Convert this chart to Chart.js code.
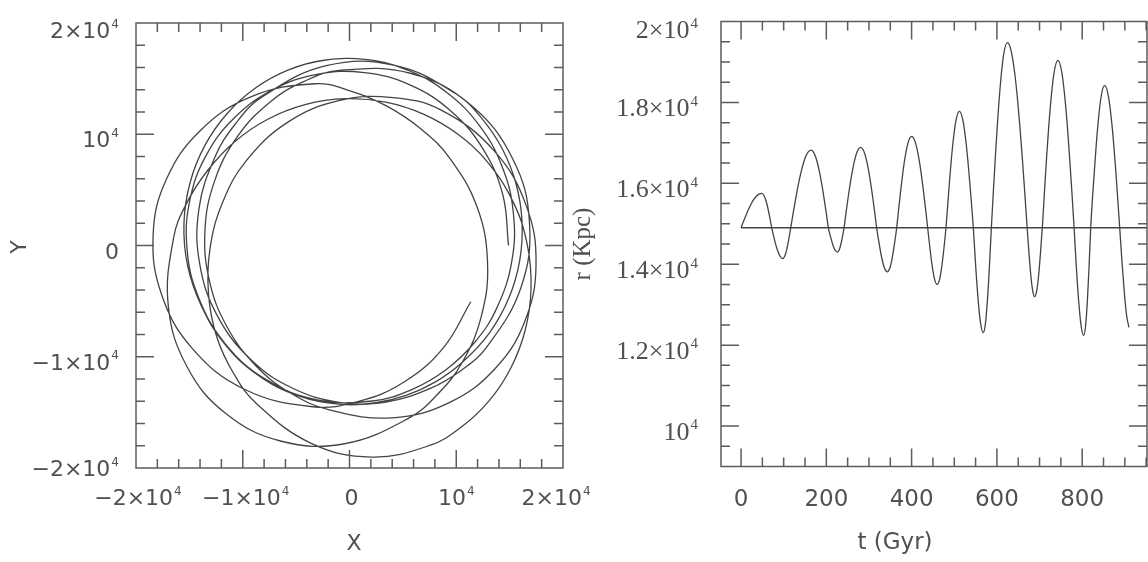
<!DOCTYPE html>
<html>
<head>
<meta charset="utf-8">
<title>Orbit and radius evolution</title>
<script src="https://cdn.jsdelivr.net/npm/chart.js@4.4.1/dist/chart.umd.min.js"></script>
<style>
  html, body { margin: 0; padding: 0; background: #ffffff; }
  #figure { position: relative; width: 1148px; height: 562px; overflow: hidden; background: #ffffff; }
  #figure canvas { position: absolute; top: 0; }
  #orbitPanel { left: 0; }
  #radiusPanel { left: 560px; }
</style>
</head>
<body>
<div id="figure">
  <canvas id="orbitPanel" width="600" height="562"></canvas>
  <canvas id="radiusPanel" width="588" height="562"></canvas>
</div>
<script>
// Orbit samples: time, galactocentric radius and azimuth (degrees, unwrapped).
const timeGyr = [
  0, 6.1, 12.1, 18.2, 24.3, 30.3, 36.4, 42.4, 48.5,
  54.4, 60.3, 66.1, 72,
  78.4, 84.9, 91.3, 97.7,
  102.4, 107.1, 111.8, 116.5,
  122.4, 128.4, 134.3, 140.3, 146.2, 152.1, 158.1, 164,
  169.1, 174.2, 179.3, 184.4, 189.5, 194.6, 199.7, 204.8,
  210.1, 215.4, 220.6, 225.9,
  229.8, 233.7, 237.6, 241.5,
  246.4, 251.3, 256.2, 261.1, 266, 270.8, 275.7, 280.6,
  290, 299.3, 308.7, 313.4, 318,
  324.3, 330.5, 336.8, 343,
  348.5, 354, 359.5, 365,
  369.4, 373.8, 382.5, 391.3, 400,
  409.4, 418.9, 428.3, 433, 437.7,
  443.3, 448.9, 454.4, 460,
  465.2, 470.3, 475.5, 480.6,
  488.5, 496.3, 504.2, 512,
  520.2, 528.4, 536.5, 544.7,
  550.5, 556.4, 562.2, 568,
  572.8, 577.5, 582.3, 587,
  591.7, 596.4, 605.8, 615.1, 624.5,
  630.3, 636.1, 642, 647.8, 653.6, 659.4, 665.2, 671,
  675.4, 679.8, 684.2, 688.6,
  693.1, 697.6, 702, 706.5,
  711.1, 715.6, 724.8, 733.9, 743,
  752.5, 762, 771.5, 776.3, 781,
  786.6, 792.3, 797.9, 803.5,
  807.6, 811.8, 815.9, 820,
  828.2, 836.4, 844.5, 852.7,
  861.5, 870.4, 879.2, 888,
  893.4, 898.9, 904.3, 909.7
];

const radiusKpc = [
  14900, 15066, 15225, 15372, 15501, 15607, 15685, 15734, 15750,
  15685, 15501, 15225, 14900,
  14609, 14363, 14198, 14140,
  14198, 14363, 14609, 14900,
  15275, 15635, 15967, 16258, 16496, 16674, 16783, 16820,
  16783, 16674, 16496, 16258, 15967, 15635, 15275, 14900,
  14670, 14476, 14346, 14300,
  14346, 14476, 14670, 14900,
  15288, 15662, 16006, 16307, 16555, 16739, 16852, 16890,
  16739, 16307, 15662, 15288, 14900,
  14483, 14129, 13893, 13810,
  13893, 14129, 14483, 14900,
  15341, 15765, 16498, 16988, 17160,
  16988, 16498, 15765, 15341, 14900,
  14364, 13910, 13607, 13500,
  13607, 13910, 14364, 14900,
  16002, 16936, 17561, 17780,
  17561, 16936, 16002, 14900,
  13909, 13069, 12507, 12310,
  12507, 13069, 13909, 14900,
  15794, 16653, 18139, 19131, 19480,
  19392, 19131, 18708, 18139, 17445, 16653, 15794, 14900,
  14249, 13698, 13329, 13200,
  13329, 13698, 14249, 14900,
  15708, 16484, 17827, 18725, 19040,
  18725, 17827, 16484, 15708, 14900,
  13882, 13019, 12442, 12240,
  12442, 13019, 13882, 14900,
  16247, 17389, 18152, 18420,
  18152, 17389, 16247, 14900,
  14048, 13289, 12722, 12440
];

const azimuthDeg = [
  0, 17.7, 35.0, 51.9, 68.6, 84.9, 101.2, 117.2, 133.3,
  148.8, 164.6, 180.9, 197.8,
  217.1, 237.1, 257.7, 278.7,
  294.0, 309.0, 323.7, 337.8,
  354.9, 371.2, 386.7, 401.7, 416.2, 430.4, 444.3, 458.1,
  469.9, 481.9, 494.0, 506.5, 519.3, 532.7, 546.7, 561.4,
  577.2, 593.4, 610.0, 626.8,
  639.3, 651.5, 663.5, 675.2,
  689.2, 702.6, 715.4, 727.7, 739.5, 751.1, 762.4, 773.7,
  795.3, 817.7, 841.7, 854.4, 867.9,
  886.8, 906.8, 927.6, 948.9,
  967.7, 986.0, 1003.6, 1020.3,
  1032.8, 1044.6, 1066.7, 1087.1, 1106.7,
  1127.9, 1149.8, 1173.6, 1186.3, 1199.8,
  1216.9, 1235.1, 1254.4, 1274.2,
  1292.6, 1310.4, 1327.2, 1343.0,
  1364.5, 1383.5, 1400.8, 1417.2,
  1434.3, 1452.3, 1472.1, 1494.6,
  1513.0, 1534.0, 1557.3, 1582.0,
  1602.2, 1621.2, 1638.3, 1653.4,
  1666.4, 1678.2, 1698.6, 1716.3, 1732.7,
  1742.8, 1753.1, 1763.7, 1775.1, 1787.1, 1800.3, 1814.8, 1831.1,
  1844.7, 1859.4, 1875.2, 1891.6,
  1908.2, 1924.2, 1939.2, 1953.0,
  1965.8, 1977.4, 1997.8, 2015.7, 2032.4,
  2049.8, 2068.5, 2089.7, 2101.7, 2115.1,
  2132.9, 2153.3, 2176.0, 2200.2,
  2217.9, 2234.6, 2249.5, 2262.6,
  2284.7, 2303.7, 2320.7, 2336.7,
  2353.9, 2372.2, 2392.7, 2416.6,
  2433.5, 2452.8, 2473.7, 2496.0
];

// Starting radius, shown as a horizontal reference line.
const startRadius = 14900;

// Axis ticks and labels ("^" introduces the exponent).
const orbitTickValues = [-20000, -10000, 0, 10000, 20000];
const orbitTickLabels = ['\u22122\u00d710^4', '\u22121\u00d710^4', '0', '10^4', '2\u00d710^4'];
const timeTickValues = [0, 200, 400, 600, 800];
const timeTickLabels = ['0', '200', '400', '600', '800'];
const radiusTickValues = [10000, 12000, 14000, 16000, 18000, 20000];
const radiusTickLabels = ['10^4', '1.2\u00d710^4', '1.4\u00d710^4', '1.6\u00d710^4', '1.8\u00d710^4', '2\u00d710^4'];

const INK = '#444444';
const FRAME = '#5c5c5c';
const TEXT = '#505050';
const SANS = '"DejaVu Sans", sans-serif';
const SERIF = '"Liberation Serif", "DejaVu Serif", serif';

// Digit height as a fraction of font size, per family.
function digitHeight(family) { return family === SERIF ? 0.66 : 0.73; }

// Draw a label such as "1.6×10^4" with a raised exponent, vertically centred on cy.
function drawPowerLabel(ctx, text, x, cy, align, size, family) {
  const parts = text.split('^');
  const base = parts[0];
  const exp = parts[1];
  const expSize = Math.round(size * 0.56);
  const dh = digitHeight(family);
  ctx.font = size + 'px ' + family;
  const wb = ctx.measureText(base).width;
  let we = 0;
  if (exp) {
    ctx.font = expSize + 'px ' + family;
    we = ctx.measureText(exp).width + 1;
  }
  const total = wb + we;
  const left = align === 'right' ? x - total : x - total / 2;
  const baseLine = cy + size * dh / 2;
  ctx.textAlign = 'left';
  ctx.textBaseline = 'alphabetic';
  ctx.font = size + 'px ' + family;
  ctx.fillText(base, left, baseLine);
  if (exp) {
    const top = cy - size * dh / 2 - 3;
    ctx.font = expSize + 'px ' + family;
    ctx.fillText(exp, left + wb + 1, top + expSize * dh);
  }
}

function drawRotated(ctx, text, x, y, size, family) {
  ctx.save();
  ctx.translate(x, y);
  ctx.rotate(-Math.PI / 2);
  ctx.font = size + 'px ' + family;
  ctx.textAlign = 'center';
  ctx.textBaseline = 'middle';
  ctx.fillText(text, 0, 0);
  ctx.restore();
}

// Boxed axes: frame, inward ticks on all four sides, tick labels and titles.
const boxedAxes = {
  id: 'boxedAxes',
  afterDatasetsDraw(chart, args, o) {
    const ctx = chart.ctx;
    const a = chart.chartArea;
    const xs = chart.scales.x;
    const ys = chart.scales.y;
    ctx.save();
    ctx.strokeStyle = FRAME;
    ctx.lineWidth = 1.5;
    ctx.beginPath();
    const eps = 1e-6;
    for (let i = Math.ceil(xs.min / o.xMinor); i * o.xMinor <= xs.max + eps; i++) {
      const v = i * o.xMinor;
      if (Math.abs(v - xs.min) < eps || Math.abs(v - xs.max) < eps) continue;
      const len = Math.abs(v % o.xMajor) < eps ? o.majorLen : o.minorLen;
      const px = xs.getPixelForValue(v);
      ctx.moveTo(px, a.bottom); ctx.lineTo(px, a.bottom - len);
      ctx.moveTo(px, a.top); ctx.lineTo(px, a.top + len);
    }
    for (let i = Math.ceil(ys.min / o.yMinor); i * o.yMinor <= ys.max + eps; i++) {
      const v = i * o.yMinor;
      if (Math.abs(v - ys.min) < eps || Math.abs(v - ys.max) < eps) continue;
      const len = Math.abs(v % o.yMajor) < eps ? o.majorLen : o.minorLen;
      const py = ys.getPixelForValue(v);
      ctx.moveTo(a.left, py); ctx.lineTo(a.left + len, py);
      ctx.moveTo(a.right, py); ctx.lineTo(a.right - len, py);
    }
    ctx.stroke();
    ctx.strokeRect(a.left, a.top, a.right - a.left, a.bottom - a.top);

    ctx.fillStyle = TEXT;
    o.xTicks.forEach((v, i) => {
      const shift = (o.xLabelShift && o.xLabelShift[i]) || 0;
      drawPowerLabel(ctx, o.xLabels[i], xs.getPixelForValue(v) + shift, o.xLabelY,
        'center', o.xFont.size, o.xFont.family);
    });
    o.yTicks.forEach((v, i) => {
      const dy = (o.yLabelShift && o.yLabelShift[i] !== undefined) ? o.yLabelShift[i] : 5;
      drawPowerLabel(ctx, o.yLabels[i], o.yLabelRight, ys.getPixelForValue(v) + dy,
        'right', o.yFont.size, o.yFont.family);
    });
    ctx.font = o.xTitleFont.size + 'px ' + o.xTitleFont.family;
    ctx.textAlign = 'center';
    ctx.textBaseline = 'middle';
    ctx.fillText(o.xTitle, o.xTitlePos[0], o.xTitlePos[1]);
    drawRotated(ctx, o.yTitle, o.yTitlePos[0], o.yTitlePos[1], o.yTitleFont.size, o.yTitleFont.family);
    ctx.restore();
  }
};

const orbitPoints = timeGyr.map((t, i) => {
  const phi = azimuthDeg[i] * Math.PI / 180;
  return { x: radiusKpc[i] * Math.cos(phi), y: radiusKpc[i] * Math.sin(phi) };
});
const radiusPoints = timeGyr.map((t, i) => ({ x: t, y: radiusKpc[i] }));

const common = {
  responsive: false,
  animation: false,
  devicePixelRatio: 1,
  events: []
};

// Left panel: path of the orbit in the X-Y plane.
new Chart(document.getElementById('orbitPanel'), {
  type: 'scatter',
  data: {
    datasets: [{
      data: orbitPoints,
      showLine: true,
      borderColor: INK,
      borderWidth: 1.3,
      pointRadius: 0,
      tension: 0.4,
      fill: false
    }]
  },
  options: Object.assign({}, common, {
    layout: { padding: { left: 136, top: 23, right: 37, bottom: 94 } },
    scales: {
      x: { type: 'linear', min: -20000, max: 20000, display: false },
      y: { type: 'linear', min: -20000, max: 20000, display: false }
    },
    plugins: {
      legend: { display: false },
      tooltip: { enabled: false },
      boxedAxes: {
        xMinor: 2000, xMajor: 10000, yMinor: 2000, yMajor: 10000,
        majorLen: 18, minorLen: 9,
        xTicks: orbitTickValues, xLabels: orbitTickLabels,
        yTicks: orbitTickValues, yLabels: orbitTickLabels,
        xLabelY: 497, xLabelShift: [2, 3, 2, 0, -7],
        yLabelRight: 119, yLabelShift: [0, 5, 5, 5, 7],
        xFont: { size: 22, family: SANS }, yFont: { size: 22, family: SANS },
        xTitle: 'X', xTitlePos: [354, 544], xTitleFont: { size: 22, family: SANS },
        yTitle: 'Y', yTitlePos: [20, 247], yTitleFont: { size: 22, family: SANS }
      }
    }
  }),
  plugins: [boxedAxes]
});

// Right panel: radius against time, with the starting radius for reference.
new Chart(document.getElementById('radiusPanel'), {
  type: 'scatter',
  data: {
    datasets: [{
      data: radiusPoints,
      showLine: true,
      borderColor: INK,
      borderWidth: 1.3,
      pointRadius: 0,
      cubicInterpolationMode: 'monotone',
      fill: false
    }, {
      data: [{ x: timeGyr[0], y: startRadius }, { x: 960, y: startRadius }],
      showLine: true,
      borderColor: INK,
      borderWidth: 1.4,
      pointRadius: 0,
      fill: false
    }]
  },
  options: Object.assign({}, common, {
    layout: { padding: { left: 161, top: 21.5, right: 1, bottom: 95.5 } },
    scales: {
      x: { type: 'linear', min: -47, max: 952, display: false },
      y: { type: 'linear', min: 9000, max: 20000, display: false }
    },
    plugins: {
      legend: { display: false },
      tooltip: { enabled: false },
      boxedAxes: {
        xMinor: 50, xMajor: 200, yMinor: 500, yMajor: 2000,
        majorLen: 18, minorLen: 9,
        xTicks: timeTickValues, xLabels: timeTickLabels,
        yTicks: radiusTickValues, yLabels: radiusTickLabels,
        xLabelY: 498,
        yLabelRight: 138, yLabelShift: [5, 5, 5, 5, 5, 8],
        xFont: { size: 23, family: SANS }, yFont: { size: 26, family: SERIF },
        xTitle: 't (Gyr)', xTitlePos: [335, 543], xTitleFont: { size: 23, family: SANS },
        yTitle: 'r (Kpc)', yTitlePos: [23, 244], yTitleFont: { size: 25, family: SERIF }
      }
    }
  }),
  plugins: [boxedAxes]
});
</script>
</body>
</html>
